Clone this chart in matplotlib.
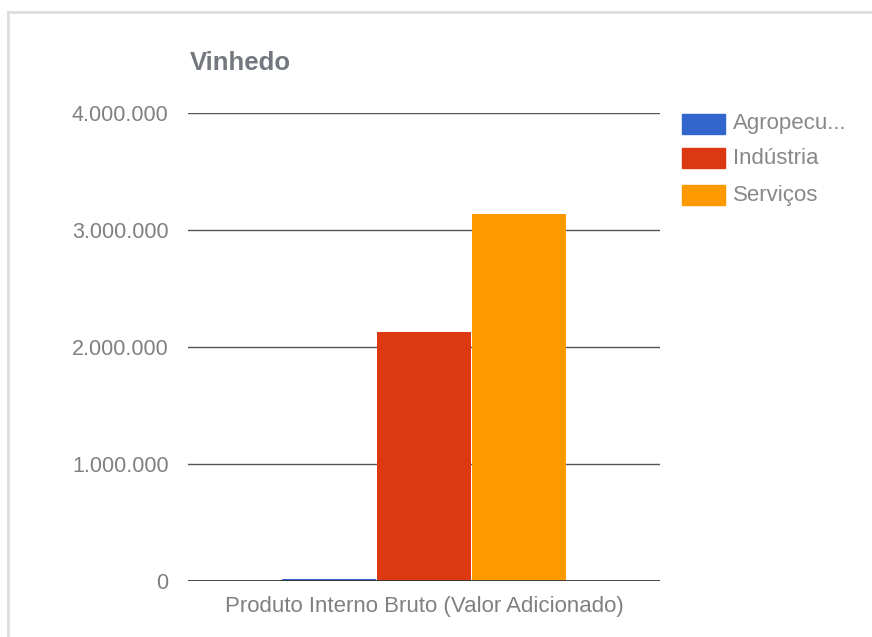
import matplotlib.pyplot as plt
from matplotlib.lines import Line2D

plt.rcParams['font.family'] = ['Liberation Sans', 'DejaVu Sans']

series = ['Agropecu...', 'Indústria', 'Serviços']
values = [15000, 2130000, 3140000]
colors = ['#3366cc', '#dc3912', '#ff9900']
category = 'Produto Interno Bruto (Valor Adicionado)'
yticks = [0, 1000000, 2000000, 3000000, 4000000]
ytick_labels = ['0', '1.000.000', '2.000.000', '3.000.000', '4.000.000']

fig = plt.figure(figsize=(8.72, 6.37), dpi=100)
ax = fig.add_axes([188 / 872, 1 - 581 / 637, 472 / 872, 468 / 637])

offsets = [-1, 0, 1]
for off, v, c, name in zip(offsets, values, colors, series):
    ax.bar(off, v, width=0.99, color=c, label=name, zorder=3, edgecolor='none')

ax.set_xlim(-2.484, 2.484)
ax.set_ylim(0, 4000000)
ax.set_yticks(yticks)
ax.set_yticklabels(ytick_labels)
ax.set_xticks([0])
ax.set_xticklabels([category], fontsize=16)
ax.tick_params(axis='both', length=0, labelcolor='#808080')
ax.tick_params(axis='y', pad=14, labelsize=15.5)
ax.tick_params(axis='x', pad=11)

for y in yticks[1:]:
    ax.axhline(y, color='#555555', linewidth=1, zorder=1)
ax.axhline(0, color='#333333', linewidth=2, zorder=4)

for s in ax.spines.values():
    s.set_visible(False)

fig.text(190 / 872, 1 - 63 / 637, 'Vinhedo', fontsize=18.5, fontweight='bold',
         color='#737880', va='center', ha='left')

# legend drawn manually
leg_y = [124, 158, 195]
for y, c, name in zip(leg_y, colors, series):
    fig.patches.append(plt.Rectangle((682 / 872, 1 - (y + 10) / 637), 43 / 872, 20 / 637,
                                     transform=fig.transFigure, color=c, figure=fig))
    fig.text(733 / 872, 1 - y / 637, name, fontsize=16, color='#888888',
             va='center', ha='left')

# outer frame
fig.lines.append(Line2D([8 / 872, 8 / 872], [0, 1 - 12 / 637], transform=fig.transFigure,
                        color='#dddddd', linewidth=2))
fig.lines.append(Line2D([8 / 872, 1], [1 - 12 / 637, 1 - 12 / 637], transform=fig.transFigure,
                        color='#dddddd', linewidth=2))

fig.savefig('out.png', dpi=100)
